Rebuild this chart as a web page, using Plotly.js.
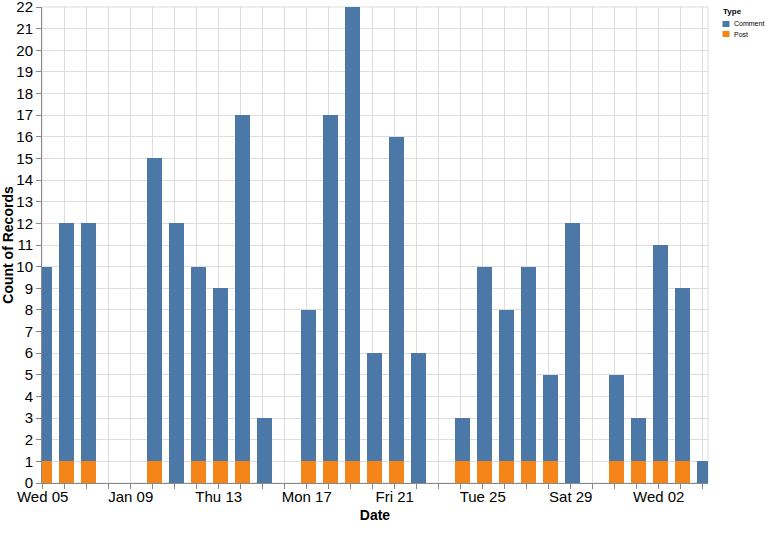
<!DOCTYPE html>
<html>
<head>
<meta charset="utf-8">
<script src="https://cdn.plot.ly/plotly-3.0.1.min.js"></script>
<style>
  html, body { margin: 0; padding: 0; background: #fff; }
  #chart { width: 768px; height: 538px; }
</style>
</head>
<body>
<div id="chart"></div>
<script>
// records per day, split by Type
var dates = ['2022-01-05', '2022-01-06', '2022-01-07', '2022-01-10', '2022-01-11', '2022-01-12',
  '2022-01-13', '2022-01-14', '2022-01-15', '2022-01-17', '2022-01-18', '2022-01-19',
  '2022-01-20', '2022-01-21', '2022-01-22', '2022-01-24', '2022-01-25', '2022-01-26',
  '2022-01-27', '2022-01-28', '2022-01-29', '2022-01-31', '2022-02-01', '2022-02-02',
  '2022-02-03', '2022-02-04'];
var commentCounts = [9, 11, 11, 14, 12, 9, 8, 16, 3, 7, 16, 21, 5, 15, 6, 2, 9, 7, 9, 4, 12, 4, 2, 10, 8, 1];
var postCounts = [1, 1, 1, 1, 0, 1, 1, 1, 0, 1, 1, 1, 1, 1, 0, 1, 1, 1, 1, 1, 0, 1, 1, 1, 1, 0];

var typeNames = ['Comment', 'Post'];
var typeColors = ['#4c78a8', '#f58518'];

var labelDates = ['2022-01-05', '2022-01-09', '2022-01-13', '2022-01-17', '2022-01-21',
  '2022-01-25', '2022-01-29', '2022-02-02'];
var labelTexts = ['Wed 05', 'Jan 09', 'Thu 13', 'Mon 17', 'Fri 21', 'Tue 25', 'Sat 29', 'Wed 02'];
var countTicks = [0, 1, 2, 3, 4, 5, 6, 7, 8, 9, 10, 11, 12, 13, 14, 15, 16, 17, 18, 19, 20, 21, 22];

// one tick (and grid line) per day, text only every fourth day
var tickVals = [], tickText = [];
var day0 = Date.UTC(2022, 0, 5);
for (var i = 0; i <= 30; i++) {
  var d = new Date(day0 + i * 86400000).toISOString().slice(0, 10);
  tickVals.push(d);
  var k = labelDates.indexOf(d);
  tickText.push(k >= 0 ? labelTexts[k] : '');
}

var DAY = 86400000;
var barWidth = 0.68 * DAY;
var barOffset = -0.25 * DAY;

var post = {
  x: dates, y: postCounts, name: typeNames[1], type: 'bar',
  width: barWidth, offset: barOffset,
  marker: { color: typeColors[1], line: { width: 0 } },
  hoverinfo: 'x+y+name'
};
var comment = {
  x: dates, y: commentCounts, name: typeNames[0], type: 'bar',
  width: barWidth, offset: barOffset,
  marker: { color: typeColors[0], line: { width: 0 } },
  hoverinfo: 'x+y+name'
};

var M = { l: 42, r: 60, t: 7, b: 55 };
var PW = 768 - M.l - M.r, PH = 538 - M.t - M.b;
function px(x) { return (x - M.l) / PW; }
function py(y) { return 1 - (y - M.t) / PH; }

var font = 'Liberation Sans, Arial, sans-serif';

// hand-made legend in the corner
var shapes = [{
  type: 'rect', xref: 'paper', yref: 'paper', x0: 0, x1: 1, y0: 0, y1: 1,
  line: { color: '#ddd', width: 1 }, layer: 'below'
}];
var annotations = [{
  xref: 'paper', yref: 'paper', x: px(721), y: py(12), xanchor: 'left', yanchor: 'middle',
  text: '<b>Type</b>', showarrow: false, font: { family: font, size: 8, color: '#000' }
}];
var legendRows = [24, 34];
for (var j = 0; j < typeNames.length; j++) {
  shapes.push({
    type: 'rect', xref: 'paper', yref: 'paper',
    x0: px(722.5), x1: px(729.5), y0: py(legendRows[j] - 3), y1: py(legendRows[j] + 3),
    fillcolor: typeColors[j], line: { width: 0 }
  });
  annotations.push({
    xref: 'paper', yref: 'paper', x: px(732), y: py(legendRows[j]), xanchor: 'left', yanchor: 'middle',
    text: typeNames[j], showarrow: false, font: { family: font, size: 7, color: '#000' }
  });
}

var layout = {
  width: 768, height: 538,
  margin: M,
  barmode: 'stack',
  showlegend: false,
  plot_bgcolor: '#fff', paper_bgcolor: '#fff',
  font: { family: font, color: '#000' },
  xaxis: {
    type: 'date',
    range: ['2022-01-04 23:14', '2022-02-04 05:45'],
    tickmode: 'array', tickvals: tickVals, ticktext: tickText,
    ticks: 'outside', ticklen: 5, tickcolor: '#888',
    ticklabelstandoff: -5,
    showgrid: true, gridcolor: '#ddd', gridwidth: 1,
    showline: true, linecolor: '#888', linewidth: 1,
    zeroline: false,
    tickfont: { family: font, size: 15, color: '#000' },
    title: { text: '<b>Date</b>', font: { family: font, size: 14, color: '#000' }, standoff: 6 }
  },
  yaxis: {
    range: [0, 22],
    tickmode: 'array', tickvals: countTicks,
    ticklabeloverflow: 'allow',
    ticks: 'outside', ticklen: 5, tickcolor: '#888',
    showgrid: true, gridcolor: '#ddd', gridwidth: 1,
    showline: true, linecolor: '#888', linewidth: 1,
    zeroline: false,
    tickfont: { family: font, size: 15, color: '#000' },
    title: { text: '<b>Count of Records</b>', font: { family: font, size: 14, color: '#000' }, standoff: 4 }
  },
  shapes: shapes,
  annotations: annotations
};

Plotly.newPlot('chart', [post, comment], layout, { displayModeBar: false, staticPlot: true });
</script>
</body>
</html>
